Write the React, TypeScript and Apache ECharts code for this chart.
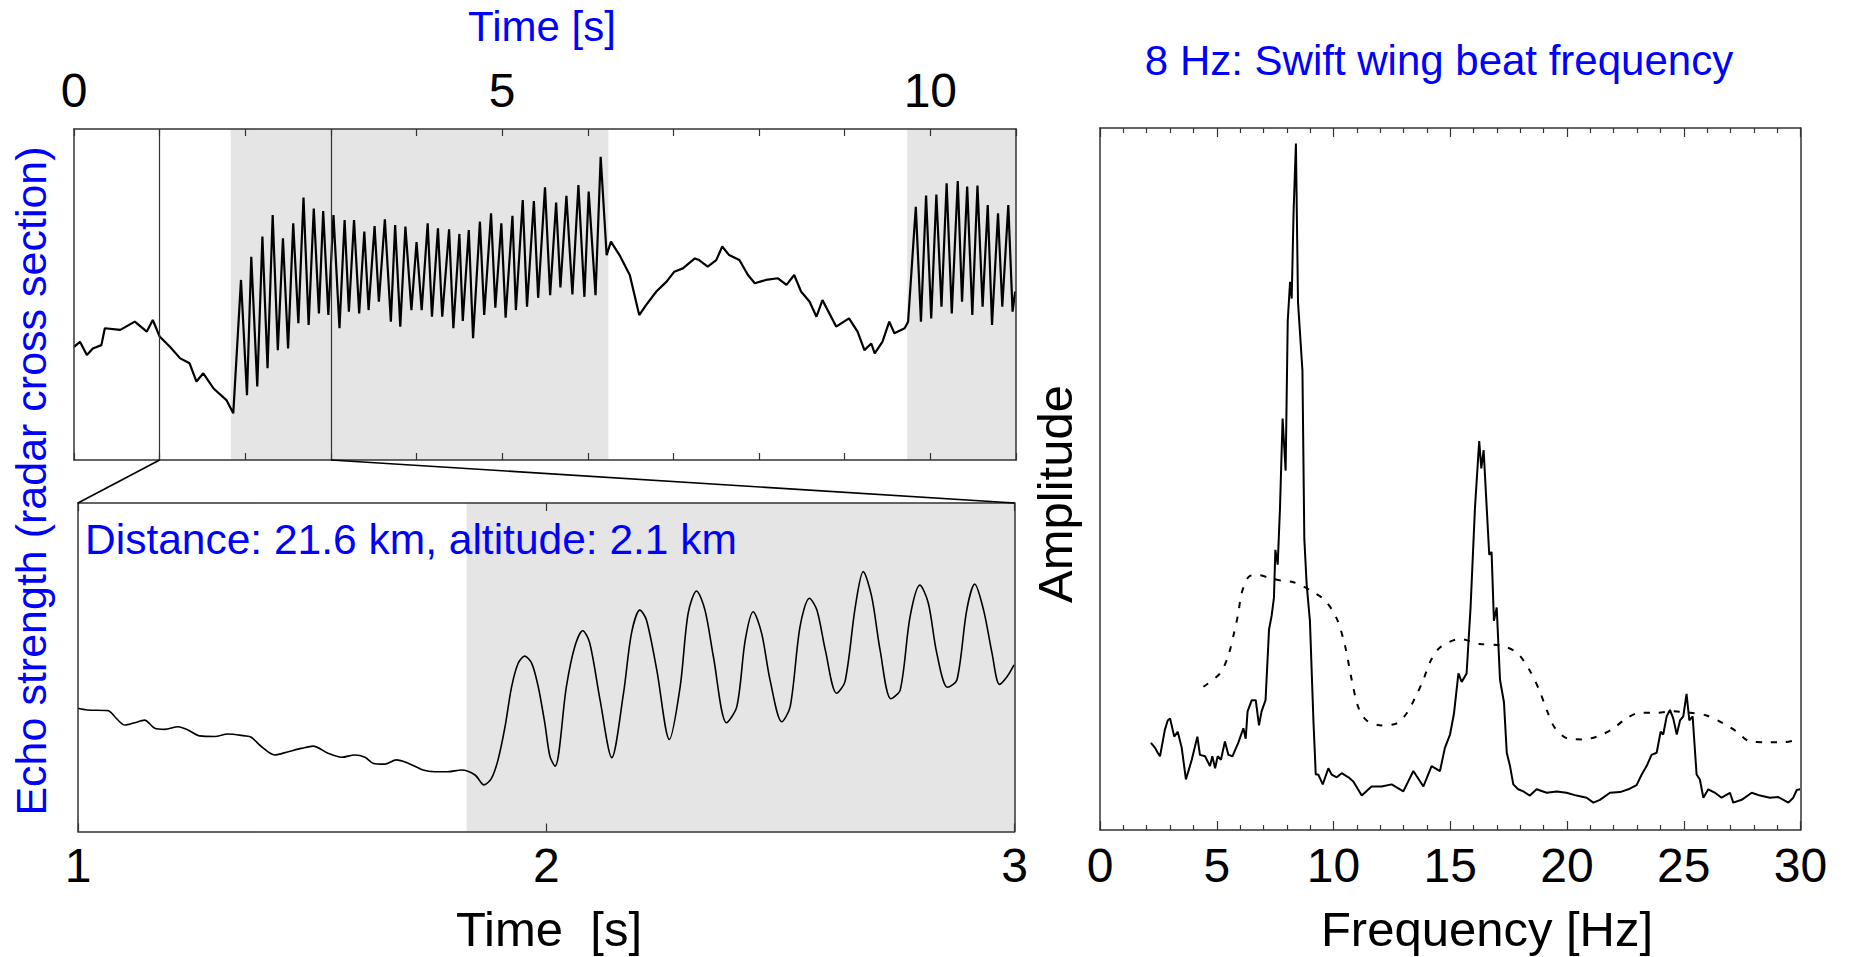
import React, { useEffect, useRef } from "react";
import * as echarts from "echarts";

// ---------- data ----------
// Top panel: echo strength (arbitrary units 0-100) vs time [s]
const topTime = [
  0.0, 0.07, 0.15, 0.22, 0.32, 0.36, 0.54, 0.71, 0.85, 0.92, 1.0, 1.12, 1.24, 1.35, 1.43, 1.51, 1.63, 1.78, 1.86,
  1.95, 2.02, 2.07, 2.14, 2.2, 2.26, 2.32, 2.38, 2.44, 2.5, 2.56, 2.62, 2.68, 2.74, 2.8, 2.86, 2.91, 2.97,
  3.03, 3.1, 3.16, 3.21, 3.27, 3.33, 3.39, 3.44, 3.51, 3.56, 3.63, 3.7, 3.75, 3.81, 3.87, 3.94,
  4.0, 4.06, 4.13, 4.18, 4.25, 4.3, 4.38, 4.43, 4.5, 4.54, 4.61, 4.66, 4.74, 4.79, 4.87, 4.92, 4.99,
  5.04, 5.12, 5.16, 5.24, 5.29, 5.37, 5.42, 5.5, 5.56, 5.63, 5.68, 5.75, 5.82, 5.89, 5.96, 6.01, 6.09, 6.15,
  6.22, 6.27, 6.37, 6.49, 6.6, 6.68, 6.8, 6.92, 7.01, 7.11, 7.25, 7.3, 7.4, 7.5, 7.57, 7.65, 7.77, 7.87, 7.95,
  8.08, 8.22, 8.32, 8.41, 8.49, 8.59, 8.67, 8.74, 8.9, 9.05, 9.15, 9.23, 9.31, 9.35, 9.44, 9.52, 9.58, 9.7, 9.74,
  9.83, 9.89, 9.95, 10.01, 10.07, 10.13, 10.19, 10.25, 10.32, 10.37, 10.43, 10.49, 10.55, 10.61, 10.67, 10.72,
  10.79, 10.84, 10.91, 10.96, 10.99,
];
const topEcho = [
  34.2, 35.7, 31.7, 33.7, 34.7, 39.8, 39.3, 41.8, 38.8, 42.3, 37.3, 34.2, 30.7, 29.2, 23.7, 26.2, 21.6, 18.1, 14.1,
  54.4, 19.6, 61.4, 22.2, 67.5, 27.7, 74.0, 33.2, 67.0, 33.7, 71.5, 41.3, 79.3, 40.8, 76.0, 44.3, 75.2, 43.8,
  74.0, 39.8, 72.5, 44.8, 72.5, 44.3, 69.0, 45.3, 70.7, 47.8, 72.7, 41.8, 71.0, 40.3, 70.5, 45.3,
  65.8, 45.3, 71.5, 43.3, 70.0, 43.3, 69.7, 39.8, 68.3, 42.0, 69.5, 36.8, 72.0, 43.8, 74.5, 46.0, 71.5,
  43.0, 73.8, 45.3, 78.5, 46.3, 78.2, 49.0, 82.4, 49.8, 77.8, 52.1, 79.8, 50.0, 83.1, 49.3, 81.1, 49.8, 91.6,
  61.9, 66.0, 61.9, 55.9, 43.8, 46.8, 50.9, 53.9, 56.9, 57.9, 60.9, 60.4, 58.4, 60.4, 64.5, 61.9, 60.4, 55.9, 53.4,
  54.4, 54.9, 52.9, 55.9, 50.9, 47.8, 43.3, 48.3, 40.3, 42.8, 38.8, 33.2, 35.2, 32.2, 35.7, 41.8, 38.3, 39.8, 41.8,
  76.5, 41.8, 79.9, 42.8, 80.2, 46.3, 83.6, 44.3, 84.3, 47.8, 82.6, 43.8, 82.9, 46.3, 77.0, 40.8,
  74.5, 46.3, 77.0, 44.8, 50.9,
];

// Lower-left panel: zoom of 1-3 s
const zoomTime = [
  1.0, 1.02, 1.064, 1.082, 1.1, 1.121, 1.142, 1.164, 1.185, 1.214, 1.235, 1.26, 1.292, 1.32, 1.356, 1.37, 1.392,
  1.42, 1.449, 1.477, 1.502, 1.534, 1.563, 1.591, 1.613, 1.63, 1.655, 1.68, 1.705, 1.737, 1.762, 1.79, 1.819,
  1.848, 1.867, 1.883, 1.897, 1.912, 1.926, 1.94, 1.954, 1.969, 1.983, 1.997, 2.008, 2.019, 2.043, 2.061, 2.078,
  2.093, 2.115, 2.14, 2.165, 2.182, 2.2, 2.214, 2.236, 2.263, 2.286, 2.303, 2.321, 2.339, 2.357, 2.385, 2.407,
  2.425, 2.442, 2.46, 2.478, 2.503, 2.521, 2.542, 2.562, 2.578, 2.596, 2.62, 2.638, 2.66, 2.677, 2.695, 2.713,
  2.736, 2.756, 2.777, 2.798, 2.816, 2.834, 2.857, 2.877, 2.898, 2.915, 2.934, 2.952, 2.968, 2.984, 2.999,
];
const zoomEcho = [
  37.5, 37.0, 36.8, 34.4, 32.4, 33.1, 33.9, 31.4, 31.1, 31.9, 30.9, 29.1, 28.9, 29.7, 29.1, 28.7, 25.8,
  23.3, 24.3, 25.3, 26.0, 23.8, 22.6, 23.3, 22.6, 20.8, 20.5, 21.8, 20.8, 18.7, 18.2, 18.2, 18.7,
  17.2, 14.2, 16.2, 21.8, 31.9, 44.0, 51.2, 53.4, 51.2, 44.0, 32.9, 22.8, 19.9, 44.1, 56.3, 61.1,
  57.3, 40.0, 22.5, 42.1, 60.3, 67.4, 64.4, 49.2, 28.0, 44.1, 66.4, 73.2, 67.4, 53.2, 33.1, 38.0,
  58.3, 66.9, 60.3, 46.1, 33.4, 38.0, 62.4, 71.0, 67.4, 55.2, 42.1, 45.6, 68.4, 79.1, 71.5, 55.2,
  40.4, 43.1, 65.4, 75.0, 69.5, 54.3, 43.9, 46.1, 67.4, 75.3, 67.4, 54.3, 44.8, 47.1, 50.7,
];

// Right panel: spectrum (amplitude 0-100 of the frame height)
const freqSolid = [
  2.18, 2.36, 2.47, 2.57, 2.78, 2.9, 3.0, 3.18, 3.33, 3.5, 3.68, 3.93, 4.17, 4.28, 4.5, 4.71, 4.81, 4.93, 5.04,
  5.18, 5.35, 5.5, 5.67, 5.92, 6.14, 6.24, 6.32, 6.5, 6.67, 6.81, 6.92, 7.09, 7.24, 7.35, 7.45, 7.51, 7.61, 7.71,
  7.82, 7.95, 8.04, 8.14, 8.21, 8.29, 8.39, 8.48, 8.67, 8.75, 8.85, 8.99, 9.14, 9.24, 9.35, 9.54, 9.78, 9.92,
  10.14, 10.35, 10.64, 10.85, 11.21, 11.63, 12.06, 12.49, 12.99, 13.42, 13.85, 14.2, 14.56, 14.77, 14.99, 15.16,
  15.35, 15.49, 15.7, 15.87, 16.06, 16.24, 16.33, 16.43, 16.56, 16.67, 16.77, 16.87, 16.99, 17.13, 17.3, 17.42,
  17.56, 17.7, 17.91, 18.13, 18.41, 18.7, 19.13, 19.56, 19.98, 20.41, 20.84, 21.13, 21.41, 21.84, 22.27, 22.63,
  22.98, 23.2, 23.41, 23.62, 23.84, 24.01, 24.12, 24.27, 24.41, 24.55, 24.7, 24.84, 24.98, 25.12, 25.24, 25.38,
  25.55, 25.69, 25.84, 26.05, 26.34, 26.62, 26.98, 27.12, 27.48, 27.91, 28.27, 28.69, 29.05, 29.48, 29.69,
  29.84, 29.98,
];
const ampSolid = [
  12.4, 11.7, 11.0, 10.5, 14.3, 15.6, 15.9, 13.3, 14.0, 11.7, 7.2, 10.0, 13.3, 10.7, 10.5, 9.1, 10.5, 8.8, 10.5,
  10.0, 12.6, 10.7, 10.5, 12.4, 14.5, 13.0, 16.9, 18.5, 18.5, 14.9, 16.9, 18.5, 28.6, 30.5, 33.1, 39.9, 37.8, 46.0,
  58.6, 51.2, 72.5, 78.1, 75.7, 88.0, 97.8, 75.2, 65.4, 41.5, 35.0, 29.8, 15.6, 7.9, 7.9, 6.5, 8.8, 7.9,
  7.5, 8.1, 7.5, 6.9, 4.9, 6.2, 6.2, 6.5, 5.5, 8.4, 6.2, 9.1, 8.4, 11.7, 13.6, 16.6,
  22.3, 21.1, 22.3, 31.7, 46.0, 55.4, 51.5, 54.1, 46.0, 39.2, 39.6, 29.8, 31.7, 21.4, 18.2, 11.0,
  9.1, 6.5, 5.8, 5.5, 4.9, 5.8, 5.3, 5.5, 5.3, 4.9, 4.6, 3.9, 4.3, 5.3, 5.4, 5.8,
  6.4, 7.9, 9.1, 10.7, 11.0, 14.0, 13.6, 16.2, 17.1, 15.9, 13.6, 15.6, 16.2, 19.4, 15.6, 16.2,
  7.9, 7.2, 4.6, 5.8, 5.3, 4.6, 5.3, 3.9, 4.3, 5.3, 4.9, 4.6, 4.7, 3.9, 4.6,
  5.7, 5.8,
];
const freqDashed = [
  4.43, 5.14, 5.5, 5.75, 5.92, 6.07, 6.42, 6.78, 7.28, 7.78, 8.28, 8.71, 9.07, 9.64, 10.14, 10.49, 10.78, 11.06,
  11.42, 12.06, 12.71, 13.13, 13.49, 13.85, 14.13, 14.56, 15.42, 16.27, 17.13, 17.84, 18.41, 18.84, 19.13, 19.49,
  20.06, 20.7, 21.27, 21.91, 22.55, 23.13, 23.84, 24.55, 25.27, 25.98, 26.69, 27.27, 27.84, 28.55, 29.26, 29.91,
];
const ampDashed = [
  20.4, 22.3, 24.9, 28.2, 30.8, 33.8, 36.2, 36.3, 35.9, 35.5, 35.3, 34.7, 34.0, 32.7, 30.1, 26.3, 21.4, 17.5,
  15.6, 14.9, 15.2, 16.6, 18.8, 21.4, 23.9, 26.0, 27.2, 26.5, 26.3, 25.3, 22.7, 19.7, 17.1, 14.5,
  13.0, 12.9, 13.3, 14.3, 15.9, 16.7, 16.7, 16.9, 16.7, 16.3, 15.2, 14.0, 12.6, 12.5, 12.5, 12.9,
];

// shaded (wing-beat) intervals and zoom window [s]
const shadedTop = [
  [1.83, 6.24],
  [9.73, 11],
];
const shadedZoom = [[1.83, 3]];
const zoomWindow = [1, 3];

const topLabelSteps = [0, 5, 10];

const FONT = "'Liberation Sans', Arial, Helvetica, sans-serif";
const BLUE = "#0000ff";
const FRAME = "#333333";

export default function App() {
  const ref = useRef<HTMLDivElement>(null);

  useEffect(() => {
    const chart = echarts.init(ref.current as HTMLDivElement, null, { renderer: "svg" });
    const zip = (a: number[], b: number[]) => a.map((x, i) => [x, b[i]]);

    const frameLine = { show: true, onZero: false, lineStyle: { color: FRAME, width: 1.5 } };
    const hidden = { show: false };
    const tickStyle = { color: FRAME, width: 1.2 };
    const tickLabel = (margin: number, formatter?: (v: number) => string) => ({
      show: true,
      fontSize: 48,
      fontFamily: FONT,
      color: "#000",
      margin,
      showMinLabel: true,
      showMaxLabel: true,
      formatter,
    });

    const option: any = {
      animation: false,
      backgroundColor: "#ffffff",
      grid: [
        { left: 74, top: 129, width: 942, height: 331 },
        { left: 78, top: 503, width: 936.5, height: 328.5 },
        { left: 1100, top: 128, width: 700.5, height: 702 },
      ],
      xAxis: [
        {
          gridIndex: 0, type: "value", position: "top", min: 0, max: 11, interval: 1, z: 6,
          axisLine: frameLine,
          axisTick: { show: true, inside: true, length: 7, lineStyle: tickStyle },
          axisLabel: tickLabel(15, (v: number) => (topLabelSteps.includes(v) ? String(v) : "")),
          splitLine: hidden,
        },
        {
          gridIndex: 0, type: "value", position: "bottom", min: 0, max: 11, interval: 1, z: 6,
          axisLine: frameLine,
          axisTick: { show: true, inside: true, length: 7, lineStyle: tickStyle },
          axisLabel: hidden,
          splitLine: hidden,
        },
        {
          gridIndex: 1, type: "value", position: "bottom", min: 1, max: 3, interval: 1, z: 6,
          axisLine: frameLine,
          axisTick: { show: true, inside: true, length: 8, lineStyle: tickStyle },
          axisLabel: tickLabel(10),
          splitLine: hidden,
        },
        {
          gridIndex: 1, type: "value", position: "top", min: 1, max: 3, interval: 1, z: 6,
          axisLine: frameLine,
          axisTick: { show: true, inside: true, length: 8, lineStyle: tickStyle },
          axisLabel: hidden,
          splitLine: hidden,
        },
        {
          gridIndex: 2, type: "value", position: "bottom", min: 0, max: 30, interval: 5, z: 6,
          axisLine: frameLine,
          axisTick: { show: true, inside: true, length: 9, lineStyle: tickStyle },
          minorTick: { show: true, splitNumber: 5, length: 5, lineStyle: tickStyle },
          axisLabel: tickLabel(11),
          splitLine: hidden,
        },
        {
          gridIndex: 2, type: "value", position: "top", min: 0, max: 30, interval: 5, z: 6,
          axisLine: frameLine,
          axisTick: { show: true, inside: true, length: 9, lineStyle: tickStyle },
          minorTick: { show: true, splitNumber: 5, length: 5, lineStyle: tickStyle },
          axisLabel: hidden,
          splitLine: hidden,
        },
      ],
      yAxis: [0, 1, 2].flatMap((g) => [
        {
          gridIndex: g, type: "value", position: "left", min: 0, max: 100, z: 6,
          axisLine: frameLine, axisTick: hidden, axisLabel: hidden, splitLine: hidden,
        },
        {
          gridIndex: g, type: "value", position: "right", min: 0, max: 100, z: 6,
          axisLine: frameLine, axisTick: hidden, axisLabel: hidden, splitLine: hidden,
        },
      ]),
      series: [
        {
          type: "line",
          xAxisIndex: 0,
          yAxisIndex: 0,
          data: zip(topTime, topEcho),
          showSymbol: false,
          lineStyle: { color: "#000", width: 2.2 },
          z: 3,
          markArea: {
            silent: true,
            itemStyle: { color: "#e5e5e5" },
            data: shadedTop.map(([a, b]) => [{ xAxis: a }, { xAxis: b }]),
          },
          markLine: {
            silent: true,
            symbol: "none",
            label: { show: false },
            lineStyle: { color: FRAME, width: 1.2, type: "solid" },
            data: zoomWindow.map((v) => ({ xAxis: v })),
          },
        },
        {
          type: "line",
          xAxisIndex: 2,
          yAxisIndex: 2,
          data: zip(zoomTime, zoomEcho),
          showSymbol: false,
          smooth: 0.3,
          lineStyle: { color: "#000", width: 1.6 },
          z: 3,
          markArea: {
            silent: true,
            itemStyle: { color: "#e5e5e5" },
            data: shadedZoom.map(([a, b]) => [{ xAxis: a }, { xAxis: b }]),
          },
        },
        {
          type: "line",
          xAxisIndex: 4,
          yAxisIndex: 4,
          data: zip(freqSolid, ampSolid),
          showSymbol: false,
          lineStyle: { color: "#000", width: 2 },
          z: 3,
        },
        {
          type: "line",
          xAxisIndex: 4,
          yAxisIndex: 4,
          data: zip(freqDashed, ampDashed),
          showSymbol: false,
          smooth: 0.3,
          lineStyle: { color: "#000", width: 2, type: [6, 9] },
          z: 3,
        },
      ],
    };

    chart.setOption(option);

    // connectors from the zoom window in the top panel to the lower panel
    const a1 = chart.convertToPixel({ xAxisIndex: 1, yAxisIndex: 0 } as any, [zoomWindow[0], 0]) as number[];
    const a2 = chart.convertToPixel({ xAxisIndex: 1, yAxisIndex: 0 } as any, [zoomWindow[1], 0]) as number[];
    const b1 = chart.convertToPixel({ xAxisIndex: 3, yAxisIndex: 2 } as any, [zoomWindow[0], 100]) as number[];
    const b2 = chart.convertToPixel({ xAxisIndex: 3, yAxisIndex: 2 } as any, [zoomWindow[1], 100]) as number[];

    const txt = (
      text: string, x: number, y: number, size: number, color: string,
      align: string = "center", rotation = 0
    ) => ({
      type: "text",
      x, y, rotation, z: 10,
      style: { text, fill: color, fontSize: size, fontFamily: FONT, align, verticalAlign: "middle" },
    });

    chart.setOption({
      graphic: {
        elements: [
          { type: "line", z: 10, shape: { x1: a1[0], y1: a1[1], x2: b1[0], y2: b1[1] }, style: { stroke: "#000", lineWidth: 1.6 } },
          { type: "line", z: 10, shape: { x1: a2[0], y1: a2[1], x2: b2[0], y2: b2[1] }, style: { stroke: "#000", lineWidth: 1.6 } },
          txt("Time [s]", 542, 26, 42, BLUE),
          txt("8 Hz: Swift wing beat frequency", 1439, 60, 42, BLUE),
          txt("Distance: 21.6 km, altitude: 2.1 km", 85, 539, 42.5, BLUE, "left"),
          txt("Echo strength (radar cross section)", 31, 481, 43, BLUE, "center", Math.PI / 2),
          txt("Amplitude", 1055, 494, 49, "#000", "center", Math.PI / 2),
          txt("Time  [s]", 549, 929, 49, "#000"),
          txt("Frequency [Hz]", 1487, 929, 49, "#000"),
        ],
      },
    });

    return () => chart.dispose();
  }, []);

  return (
    <div
      ref={ref}
      style={{ position: "absolute", left: 0, top: 0, width: 1853, height: 957, background: "#fff" }}
    />
  );
}
